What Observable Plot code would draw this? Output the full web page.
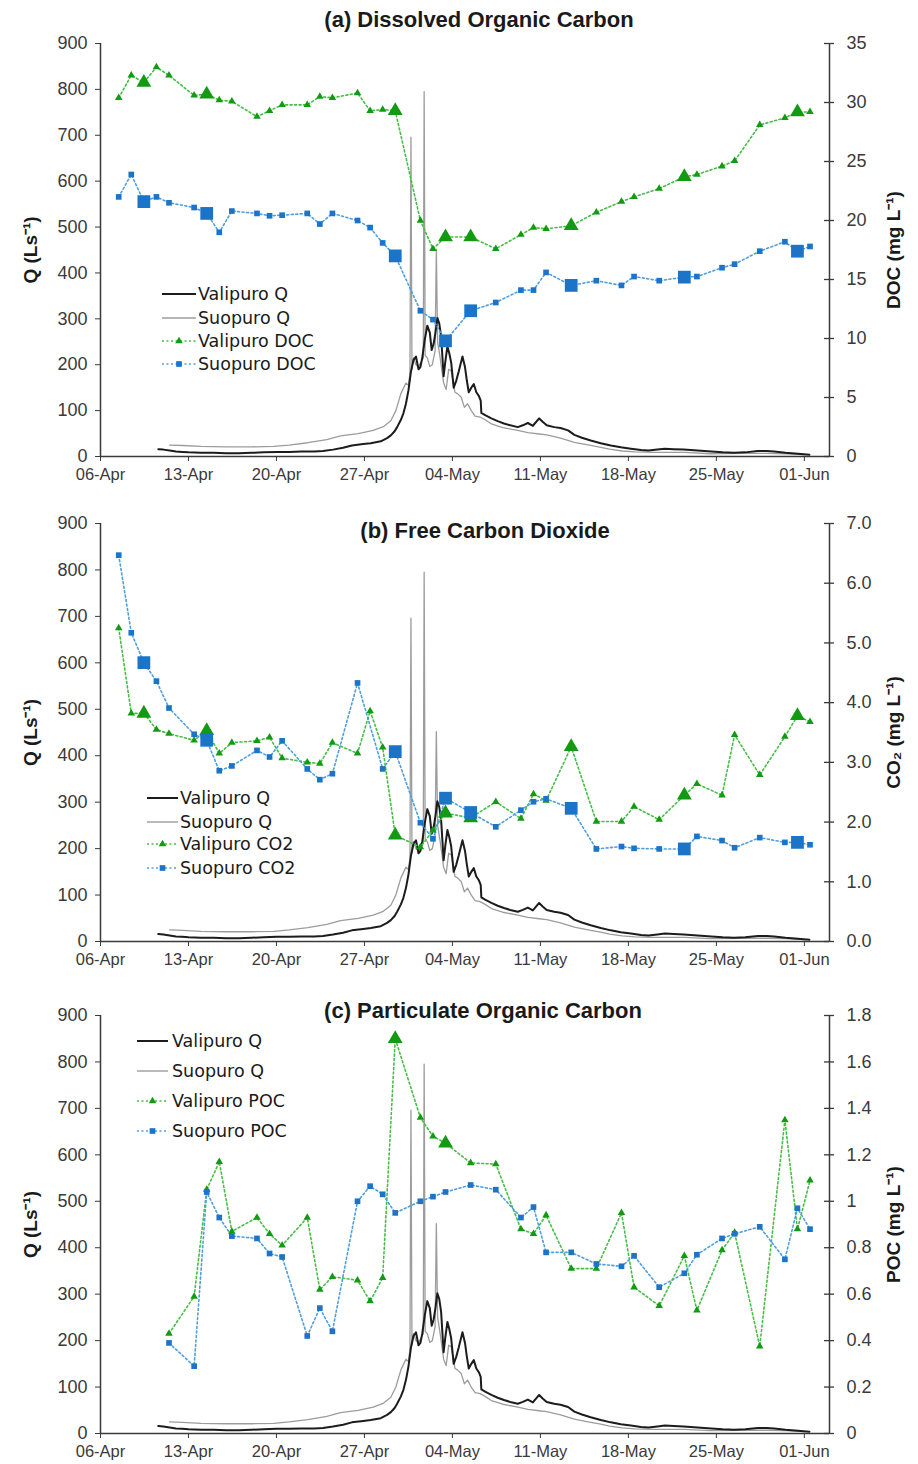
<!DOCTYPE html>
<html>
<head>
<meta charset="utf-8">
<script src="https://cdn.jsdelivr.net/npm/d3@7"></script>
<script src="https://cdn.jsdelivr.net/npm/@observablehq/plot@0.6"></script>
<style>
  body { margin: 0; background: #fff; }
  #chart { width: 918px; }
  #chart svg { display: block; }
</style>
</head>
<body>
<div id="chart"></div>
<script>
// ---------------- DATA ----------------
const START = Date.UTC(2010, 3, 6);          // 06-Apr
const xTickDays   = [0, 7, 14, 21, 28, 35, 42, 49, 56];
const xTickLabels = ["06-Apr","13-Apr","20-Apr","27-Apr","04-May","11-May","18-May","25-May","01-Jun"];
const xEndDay = 58;
const qTicks = [0,100,200,300,400,500,600,700,800,900];

// Discharge (L s-1), day offset from 06-Apr
const valipuroQDay = [4.6,5.0,5.5,6.0,6.5,7.0,8,9,10,11,12,13,14,15,16,17,17.7,18.5,19.3,20.0,20.9,21.5,22.3,22.8,23.1,23.4,23.6,23.9,24.1,24.3,24.5,24.7,24.9,25.1,25.3,25.45,25.6,25.8,26.0,26.2,26.35,26.5,26.65,26.8,26.95,27.1,27.3,27.45,27.6,27.75,27.9,28.1,28.3,28.5,28.8,29.0,29.15,29.3,29.5,29.7,29.9,30.1,30.25,30.3,30.6,31.1,31.6,32.1,32.6,33.2,33.6,34.0,34.4,34.9,35.2,35.5,36.1,36.6,37.2,37.7,38.3,39.0,39.8,40.6,41.4,42.2,43.0,43.6,44.3,44.9,45.6,46.4,47.5,48.6,49.5,50.4,51.3,52.3,53.0,53.6,54.5,55.5,56.4];
const valipuroQ    = [16,15,13,11,10,9,8,8,7,7,8,9,10,10,11,11,12,15,19,24,27,29,33,40,46,55,64,80,94,115,144,185,210,218,190,195,215,255,285,270,232,245,270,302,290,262,175,210,240,225,205,150,165,185,218,195,165,140,150,158,140,132,122,95,90,83,77,72,68,64,68,73,67,83,75,68,64,62,57,47,41,35,29,24,20,17,14,13,15,17,16,15,13,11,9,8,9,12,12,11,8,6,4];
const suopuroQDay  = [5.5,6.5,8,10,12,13.8,15,16.5,18,19.1,20.5,21.7,22.5,23.1,23.5,23.9,24.3,24.5,24.62,24.7,24.78,24.9,25.1,25.3,25.5,25.68,25.75,25.83,26.0,26.2,26.4,26.62,26.72,26.82,27.0,27.3,27.5,27.7,27.9,28.2,28.4,28.7,28.95,29.2,29.5,29.8,30.2,30.6,31.1,32,33.2,34,34.9,35.5,36.6,37.7,39.0,39.8,40.5,41.5,42.5,44.0,46.5,48.5,51.0,53.0,54.5,56.0];
const suopuroQ     = [25,24,22,21,21,22,25,30,37,45,50,57,65,78,100,137,160,155,180,696,190,215,200,196,205,215,795,220,215,196,200,230,452,250,220,160,146,190,187,140,137,129,107,115,100,88,86,80,71,63,57,52,49,47,40,31,24,20,16,12,10,9,9,6,7,7,6,4];

// Water sampling days (offset from 06-Apr), samples taken late morning
const sampleDays = [1,2,3,4,5,7,8,9,10,12,13,14,16,17,18,20,21,22,23,25,26,27,29,31,33,34,35,37,39,41,42,44,46,47,49,50,52,54,55,56];
const sampleHour = 0.45;
const bigSampleDays = [3,8,23,27,29,37,46,55];
const bigPocDays = [23,27];

const docValipuro = [30.4,32.3,31.7,33.0,32.3,30.6,30.7,30.2,30.1,28.8,29.3,29.8,29.8,30.5,30.4,30.8,29.3,29.4,29.3,20.0,17.6,18.6,18.6,17.6,18.8,19.4,19.3,19.55,20.7,21.6,22.0,22.7,23.7,23.9,24.6,25.05,28.1,28.7,29.2,29.2];
const docSuopuro  = [22.0,23.9,21.6,22.0,21.5,21.1,20.6,19.0,20.8,20.6,20.4,20.45,20.6,19.7,20.6,20.0,19.4,18.1,17.0,12.35,11.6,9.8,12.35,13.05,14.1,14.1,15.6,14.5,14.9,14.5,15.25,14.9,15.2,15.25,16.0,16.3,17.4,18.2,17.4,17.8];

const co2Valipuro = [5.25,3.82,3.82,3.55,3.48,3.37,3.53,3.15,3.33,3.36,3.42,3.07,3.0,2.98,3.33,3.15,3.86,3.25,1.78,1.58,1.86,2.15,2.07,2.34,2.06,2.47,2.36,3.26,2.01,2.01,2.26,2.04,2.45,2.64,2.45,3.46,2.79,3.43,3.78,3.68];
const co2Suopuro  = [6.47,5.17,4.67,4.36,3.91,3.47,3.37,2.86,2.94,3.2,3.09,3.36,2.89,2.71,2.81,4.33,null,2.89,3.18,1.99,1.72,2.40,2.16,1.92,2.20,2.34,2.39,2.23,1.55,1.59,1.56,1.55,1.55,1.76,1.69,1.57,1.74,1.66,1.66,1.62];

const pocValipuro = [null,null,null,null,0.43,0.59,1.05,1.17,0.87,0.93,0.86,0.81,0.93,0.62,0.675,0.66,0.57,0.67,1.70,1.36,1.28,1.25,1.165,1.16,0.88,0.86,0.94,0.71,0.71,0.95,0.63,0.55,0.765,0.53,0.79,0.865,0.375,1.35,0.88,1.09];
const pocSuopuro  = [null,null,null,null,0.39,0.29,1.04,0.93,0.85,0.84,0.775,0.76,0.42,0.54,0.44,1.0,1.065,1.03,0.95,1.0,1.02,1.04,1.07,1.05,0.93,0.975,0.78,0.78,0.73,0.72,0.765,0.63,0.69,0.77,0.84,0.86,0.89,0.75,0.97,0.88];

const docTicks = [0,5,10,15,20,25,30,35];
const co2Ticks = [0,1,2,3,4,5,6,7];
const pocTicks = [0,0.2,0.4,0.6,0.8,1,1.2,1.4,1.6,1.8];

// ---------------- HELPERS ----------------
const DAY = 864e5;
const toDate = d => new Date(START + d * DAY);
const qVal = valipuroQDay.map((d, i) => ({date: toDate(d), q: valipuroQ[i]}));
const qSuo = suopuroQDay.map((d, i) => ({date: toDate(d), q: suopuroQ[i]}));
const xTicks = xTickDays.map(toDate);
const series = (vals, bigDays) => sampleDays
  .map((d, i) => ({date: toDate(d + sampleHour), v: vals[i], big: bigDays.includes(d)}))
  .filter(d => d.v != null);

const COL = {
  valQ: "#1c1c1c", suoQ: "#9c9c9c",
  valLine: "#46bd46", valDot: "#129a12",
  suoLine: "#4f9fde", suoDot: "#1c74c8",
  axis: "#3a3a3a", text: "#1a1a1a"
};
const FONT = "'Liberation Sans', Arial, Helvetica, sans-serif";

const panels = [
  {
    title: "(a) Dissolved Organic Carbon", titleDx: 14, titleDy: -24,
    height: 490, marginTop: 43, marginBottom: 34,
    rightMax: 35, rightTicks: docTicks, rightFmt: d => String(d), rightLabel: "DOC (mg L\u207B\u00B9)",
    val: series(docValipuro, bigSampleDays), suo: series(docSuopuro, bigSampleDays),
    names: ["Valipuro Q", "Suopuro Q", "Valipuro DOC", "Suopuro DOC"],
    legend: {x1: 162, x2: 196, tx: 198, ys: [294, 318, 341, 364]}
  },
  {
    title: "(b) Free Carbon Dioxide", titleDx: 20, titleDy: 7,
    height: 485, marginTop: 33, marginBottom: 34,
    rightMax: 7, rightTicks: co2Ticks, rightFmt: d => d.toFixed(1), rightLabel: "CO\u2082 (mg L\u207B\u00B9)",
    val: series(co2Valipuro, bigSampleDays), suo: series(co2Suopuro, bigSampleDays),
    names: ["Valipuro Q", "Suopuro Q", "Valipuro CO2", "Suopuro CO2"],
    legend: {x1: 147, x2: 178, tx: 180, ys: [308, 332, 354, 378]}
  },
  {
    title: "(c) Particulate Organic Carbon", titleDx: 18, titleDy: -5,
    height: 489, marginTop: 40, marginBottom: 31,
    rightMax: 1.8, rightTicks: pocTicks, rightFmt: d => String(Math.round(d * 10) / 10), rightLabel: "POC (mg L\u207B\u00B9)",
    val: series(pocValipuro, bigPocDays), suo: series(pocSuopuro, []),
    names: ["Valipuro Q", "Suopuro Q", "Valipuro POC", "Suopuro POC"],
    legend: {x1: 137, x2: 168, tx: 172, ys: [66, 96, 126, 156]}
  }
];

function addLegend(svg, L, names) {
  const g = d3.select(svg).append("g")
    .attr("font-family", "'DejaVu Sans', Verdana, sans-serif")
    .attr("font-size", 17.5)
    .attr("text-anchor", "start")
    .attr("fill", COL.text);
  const styles = [
    {stroke: COL.valQ, w: 2},
    {stroke: COL.suoQ, w: 1.4},
    {stroke: COL.valLine, w: 1.6, dash: "2,2.5", sym: d3.symbolTriangle, size: Math.PI * 2.8 * 2.8, fill: COL.valDot},
    {stroke: COL.suoLine, w: 1.6, dash: "2,2.5", sym: d3.symbolSquare, size: Math.PI * 3.2 * 3.2, fill: COL.suoDot}
  ];
  names.forEach((name, i) => {
    const s = styles[i], y = L.ys[i];
    const line = g.append("line")
      .attr("x1", L.x1).attr("x2", L.x2).attr("y1", y).attr("y2", y)
      .attr("stroke", s.stroke).attr("stroke-width", s.w);
    if (s.dash) line.attr("stroke-dasharray", s.dash);
    if (s.sym) {
      g.append("path").attr("d", d3.symbol(s.sym, s.size)())
        .attr("transform", `translate(${(L.x1 + L.x2) / 2},${y})`)
        .attr("fill", s.fill);
    }
    g.append("text").attr("x", L.tx).attr("y", y).attr("dy", "0.35em")
      .attr("text-anchor", "start").text(name);
  });
}

const root = document.getElementById("chart");
const x0 = toDate(0), x1 = toDate(xEndDay);

for (const p of panels) {
  const k = 900 / p.rightMax;
  const sv = d => d.v * k;
  const svg = Plot.plot({
    width: 918, height: p.height,
    marginTop: p.marginTop, marginBottom: p.marginBottom, marginLeft: 100, marginRight: 89,
    x: {type: "utc", domain: [x0, x1]},
    y: {domain: [0, 900]},
    style: {fontFamily: FONT, fontSize: "16px", color: COL.text, background: "#fff", overflow: "visible"},
    marks: [
      // discharge
      Plot.line(qSuo, {x: "date", y: "q", stroke: COL.suoQ, strokeWidth: 1.3}),
      Plot.line(qVal, {x: "date", y: "q", stroke: COL.valQ, strokeWidth: 2}),
      // concentrations (secondary axis)
      Plot.line(p.val, {x: "date", y: sv, stroke: COL.valLine, strokeWidth: 1.6, strokeDasharray: "2,2.5"}),
      Plot.line(p.suo, {x: "date", y: sv, stroke: COL.suoLine, strokeWidth: 1.6, strokeDasharray: "2,2.5"}),
      Plot.dot(p.val.filter(d => !d.big), {x: "date", y: sv, symbol: "triangle", r: 2.8, fill: COL.valDot}),
      Plot.dot(p.val.filter(d => d.big), {x: "date", y: sv, symbol: "triangle", r: 5.5, fill: COL.valDot}),
      Plot.dot(p.suo.filter(d => !d.big), {x: "date", y: sv, symbol: "square", r: 3.2, fill: COL.suoDot}),
      Plot.dot(p.suo.filter(d => d.big), {x: "date", y: sv, symbol: "square", r: 7.2, fill: COL.suoDot}),
      // axis lines
      Plot.ruleX([x0], {stroke: COL.axis, strokeWidth: 1.5}),
      Plot.ruleX([x1], {stroke: COL.axis, strokeWidth: 1.5}),
      Plot.ruleY([0], {stroke: COL.axis, strokeWidth: 1.5}),
      // axes
      Plot.axisX(xTicks, {tickSize: 5, tickPadding: 7, fontSize: 16.5, tickFormat: (d, i) => xTickLabels[i], label: null, color: COL.axis}),
      Plot.axisY(qTicks, {anchor: "left", tickSize: 5, tickPadding: 8, fontSize: 18, label: null, color: COL.axis}),
      Plot.axisY(p.rightTicks, {anchor: "right", y: d => d * k, tickSize: 0, tickPadding: 17, fontSize: 18, tickFormat: p.rightFmt, label: null, color: COL.axis}),
      Plot.ruleY(p.rightTicks, {y: d => d * k, x1: x1, x2: x1, insetLeft: -5, insetRight: -5, stroke: COL.axis, strokeWidth: 1.3}),
      // axis titles and panel title
      Plot.text(["Q (Ls\u207B\u00B9)"], {text: d => d, frameAnchor: "left", dx: -70, rotate: -90, textAnchor: "middle", lineAnchor: "middle", fontSize: 19, fontWeight: "bold", fill: COL.text}),
      Plot.text([p.rightLabel], {text: d => d, frameAnchor: "right", dx: 64, rotate: -90, textAnchor: "middle", lineAnchor: "middle", fontSize: 19, fontWeight: "bold", fill: COL.text}),
      Plot.text([p.title], {text: d => d, frameAnchor: "top", dx: p.titleDx, dy: p.titleDy, textAnchor: "middle", lineAnchor: "middle", fontSize: 22, fontWeight: "bold", fill: COL.text})
    ]
  });
  addLegend(svg, p.legend, p.names);
  root.appendChild(svg);
}
</script>
</body>
</html>
